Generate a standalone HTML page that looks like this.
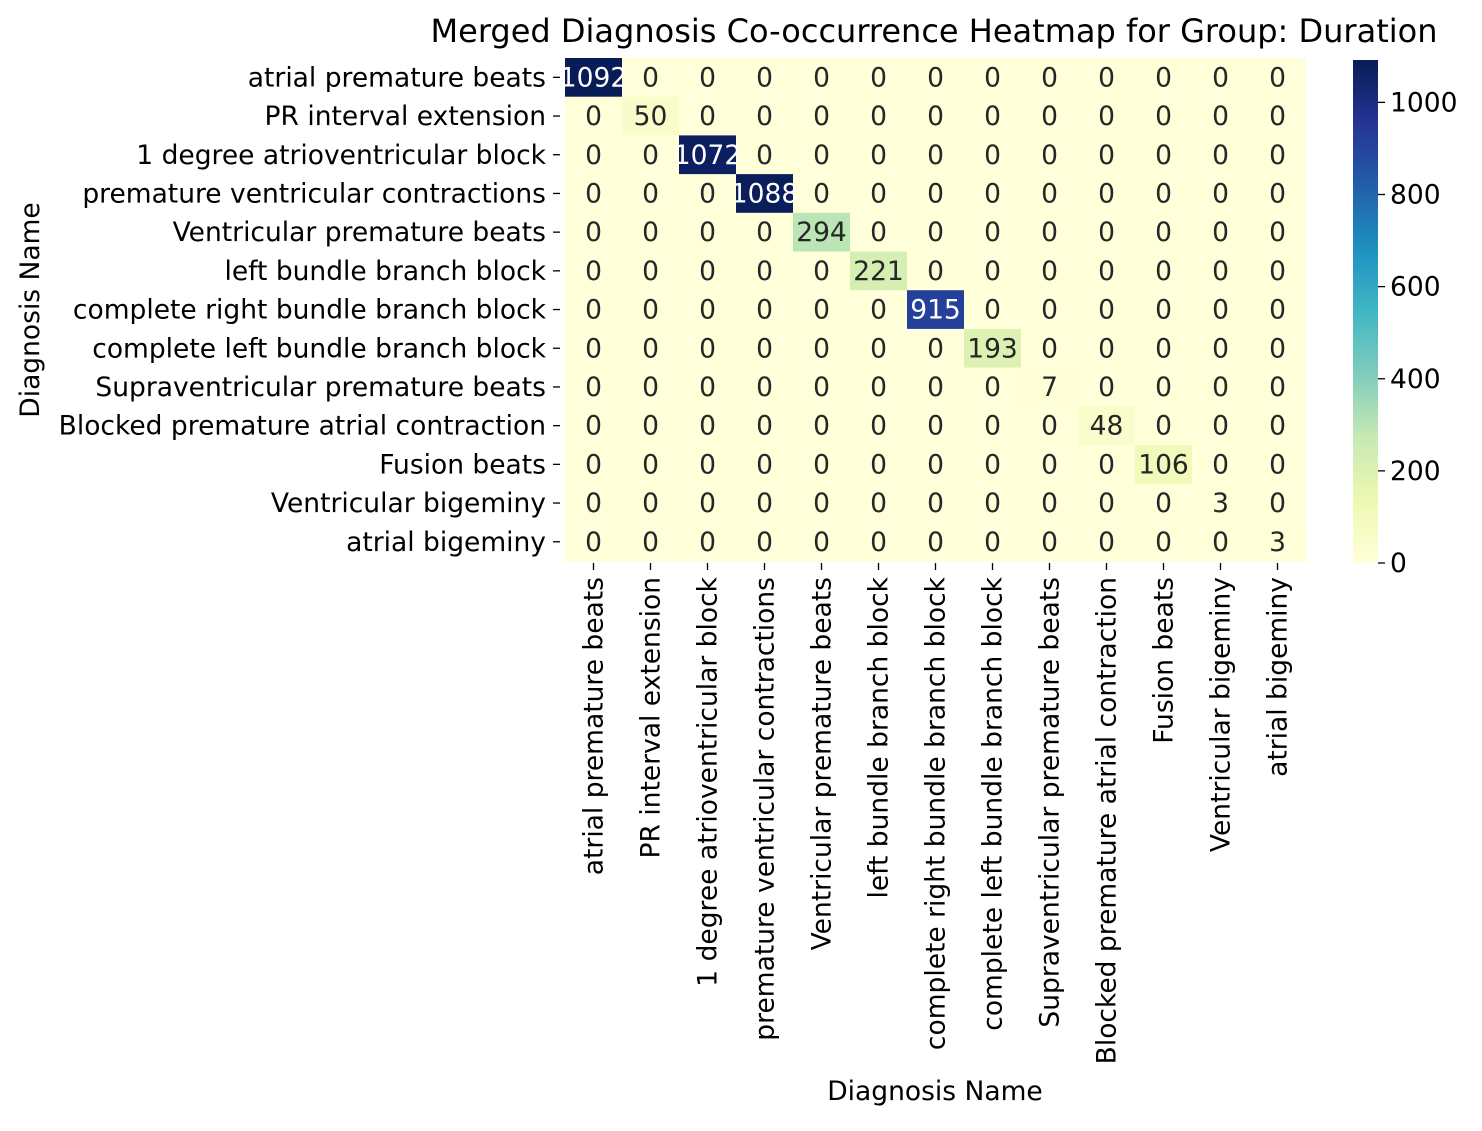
<!DOCTYPE html>
<html><head><meta charset="utf-8"><style>
body{margin:0;background:#fff}
svg text{font-family:"DejaVu Sans","Liberation Sans",sans-serif}
</style></head><body>
<svg id="chart" width="1482" height="1126" xmlns="http://www.w3.org/2000/svg">
<defs><linearGradient id="cb" x1="0" y1="1" x2="0" y2="0">
<stop offset="0" stop-color="#ffffd9"/><stop offset="0.125" stop-color="#edf8b1"/><stop offset="0.25" stop-color="#c7e9b4"/><stop offset="0.375" stop-color="#7fcdbb"/><stop offset="0.5" stop-color="#41b6c4"/><stop offset="0.625" stop-color="#1d91c0"/><stop offset="0.75" stop-color="#225ea8"/><stop offset="0.875" stop-color="#253494"/><stop offset="1" stop-color="#081d58"/>
</linearGradient></defs>
<text x="934" y="42" font-size="32" text-anchor="middle">Merged Diagnosis Co-occurrence Heatmap for Group: Duration</text>
<g id="cells"></g><g id="yt"></g><g id="xt"></g>
<rect x="1353" y="60" width="25" height="503" fill="url(#cb)"/>
<g id="cbt"></g>
<text x="935" y="1100" font-size="26.5" text-anchor="middle">Diagnosis Name</text>
<text transform="translate(39,310) rotate(-90)" font-size="26.5" text-anchor="middle">Diagnosis Name</text>
</svg>
<script>
const categories=["atrial premature beats","PR interval extension","1 degree atrioventricular block","premature ventricular contractions","Ventricular premature beats","left bundle branch block","complete right bundle branch block","complete left bundle branch block","Supraventricular premature beats","Blocked premature atrial contraction","Fusion beats","Ventricular bigeminy","atrial bigeminy"];
const diagonalValues=[1092,50,1072,1088,294,221,915,193,7,48,106,3,3];
const colorbarTicks=[0,200,400,600,800,1000];
const NS="http://www.w3.org/2000/svg";
const x0=565,cw=57,y0=58,rh=38.7,vmax=1092;
const cbTop=60,cbBot=563;
const FS=26.5;
const stops=["#ffffd9","#edf8b1","#c7e9b4","#7fcdbb","#41b6c4","#1d91c0","#225ea8","#253494","#081d58"].map(h=>[1,3,5].map(i=>parseInt(h.substr(i,2),16)));
function color(v){let t=Math.max(0,Math.min(1,v/vmax))*8;let i=Math.min(7,Math.floor(t)),f=t-i;const c=stops[i].map((a,k)=>Math.round(a+(stops[i+1][k]-a)*f));return {s:`rgb(${c})`,l:(0.299*c[0]+0.587*c[1]+0.114*c[2])};}
function xs(j){return x0+j*cw;} function ys(i){return y0+i*rh;}
function cbY(v){return cbBot-(v/vmax)*(cbBot-cbTop);}
function mk(tag,attrs,parent,txt){const e=document.createElementNS(NS,tag);for(const k in attrs)e.setAttribute(k,attrs[k]);if(txt!==undefined)e.textContent=txt;document.getElementById(parent).appendChild(e);return e;}
const n=categories.length;
for(let i=0;i<n;i++)for(let j=0;j<n;j++){
 const v=i===j?diagonalValues[i]:0;const c=color(v);
 const r=mk('rect',{x:xs(j),y:ys(i),width:cw+0.5,height:rh+0.5,fill:c.s},'cells');
 
 
}
for(let i=0;i<n;i++)for(let j=0;j<n;j++){
 const v=i===j?diagonalValues[i]:0;const c=color(v);
 const t=mk('text',{x:xs(j)+cw/2,y:ys(i)+rh/2+9,'font-size':FS,'text-anchor':'middle',fill:c.l<128?'#fff':'#262626'},'cells',String(v));
 
 
}
categories.forEach((name,i)=>{
 const yc=ys(i)+rh/2;
 mk('line',{x1:553,x2:560,y1:yc,y2:yc,stroke:'#000','stroke-width':1.3},'yt');
 const t=mk('text',{x:546,y:yc+9,'font-size':FS,'text-anchor':'end'},'yt',name);
 
 
 const xc=xs(i)+cw/2;
 mk('line',{x1:xc,x2:xc,y1:563,y2:570,stroke:'#000','stroke-width':1.3},'xt');
 const u=mk('text',{transform:`translate(${xc+9},577) rotate(-90)`,'font-size':FS,'text-anchor':'end'},'xt',name);
 
 
});
colorbarTicks.forEach(v=>{
 const y=cbY(v);
 mk('line',{x1:1378,x2:1385,y1:y,y2:y,stroke:'#000','stroke-width':1.3},'cbt');
 const t=mk('text',{x:1390,y:y+9,'font-size':FS},'cbt',String(v));
 
 
});
</script>
</body></html>
